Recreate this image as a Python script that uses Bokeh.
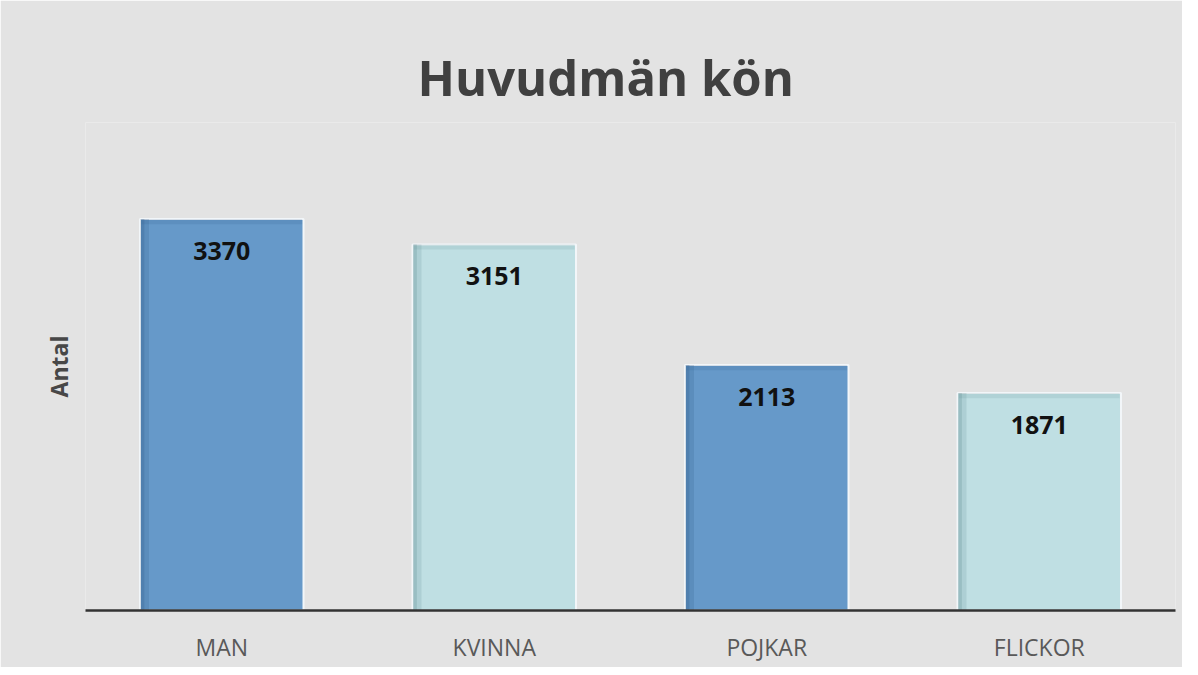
from bokeh.plotting import figure
from bokeh.models import ColumnDataSource, LabelSet, Range1d
from bokeh.transform import dodge
from bokeh.core.properties import value
from bokeh.embed import file_html
from bokeh.resources import INLINE

categories = ["MAN", "KVINNA", "POJKAR", "FLICKOR"]
values = [3370, 3151, 2113, 1871]
colors = ["#6699c9", "#bfdfe3", "#6699c9", "#bfdfe3"]
shade_colors = ["#2f5a86", "#5f8a90", "#2f5a86", "#5f8a90"]
labels = [str(v) for v in values]

bar_w = 0.6
source = ColumnDataSource(dict(cat=categories, val=values, col=colors, sh=shade_colors,
                               lab=labels, val_in=[v - 45 for v in values]))

p = figure(x_range=categories, y_range=Range1d(0, 4200), width=1182, height=667,
           output_backend="svg", toolbar_location=None,
           min_border_left=85, min_border_right=7, min_border_bottom=57, min_border_top=122,
           title="Huvudmän kön")

p.background_fill_color = "#e3e3e3"
p.border_fill_color = "#e3e3e3"
p.outline_line_color = None

p.title.align = "left"
p.title.offset = 332
p.title.text_font = "Open Sans"
p.title.text_font_size = "49px"
p.title.text_font_style = "bold"
p.title.text_color = "#404040"
p.title.standoff = 26

p.vbar(x="cat", top="val", width=bar_w, source=source, fill_color="col",
       line_color="#f2f6f9", line_width=2)
# inner shading at left and top edges
p.vbar(x=dodge("cat", -bar_w / 2 + 0.018, range=p.x_range), top="val", width=0.03,
       source=source, fill_color="sh", fill_alpha=0.18, line_color=None)
p.vbar(x=dodge("cat", -bar_w / 2 + 0.009, range=p.x_range), top="val", width=0.014,
       source=source, fill_color="sh", fill_alpha=0.25, line_color=None)
p.vbar(x="cat", top="val", bottom="val_in", width=bar_w - 0.01, source=source,
       fill_color="sh", fill_alpha=0.15, line_color=None)

lbl = LabelSet(x="cat", y="val", text="lab", source=source, text_align="center",
               text_baseline="top", y_offset=-23, text_font=value("Open Sans"),
               text_font_size="25px", text_font_style="bold", text_color="#111111")
p.add_layout(lbl)

p.xgrid.grid_line_color = None
p.ygrid.grid_line_color = None

p.xaxis.axis_line_color = "#333333"
p.xaxis.axis_line_width = 2.5
p.xaxis.major_tick_line_color = None
p.xaxis.minor_tick_line_color = None
p.xaxis.major_label_standoff = 14
p.xaxis.major_label_text_font = "Open Sans"
p.xaxis.major_label_text_font_size = "23px"
p.xaxis.major_label_text_color = "#595959"

p.yaxis.ticker = []
p.yaxis.axis_label = "Antal"
p.yaxis.axis_label_text_font = "Open Sans"
p.yaxis.axis_label_text_font_size = "23px"
p.yaxis.axis_label_text_font_style = "bold"
p.yaxis.axis_label_text_color = "#474747"
p.yaxis.axis_line_color = None
p.yaxis.major_tick_line_color = None
p.yaxis.minor_tick_line_color = None
p.yaxis.major_label_standoff = 0
p.yaxis.axis_label_standoff = 11

open("out.html", "w").write(file_html(p, INLINE))
